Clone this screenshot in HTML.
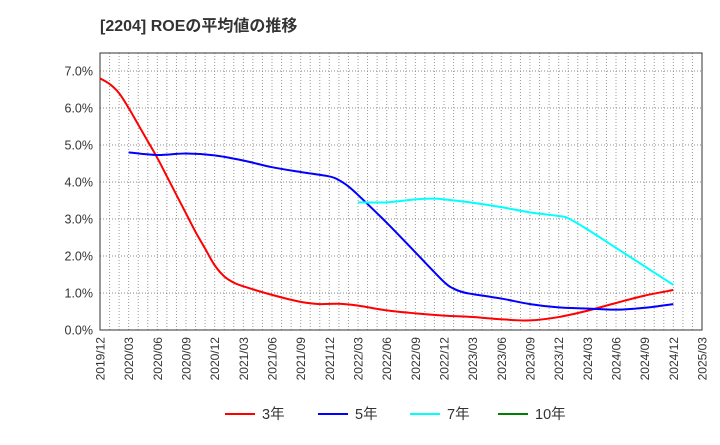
<!DOCTYPE html>
<html><head><meta charset="utf-8"><style>
body{margin:0;background:#fff;font-family:"Liberation Sans","Noto Sans CJK JP",sans-serif}
</style></head><body>
<svg width="720" height="440" viewBox="0 0 720 440" style="font-family:'Liberation Sans','Noto Sans CJK JP',sans-serif">
<text x="100" y="31" font-size="16" font-weight="bold" fill="#333">[2204]  ROEの平均値の推移</text>
<g id="grid"></g><g id="axes"></g><g id="series"></g><g id="legend"></g>
</svg>
<script>
const xTickLabels=["2019/12","2020/03","2020/06","2020/09","2020/12","2021/03","2021/06","2021/09","2021/12","2022/03","2022/06","2022/09","2022/12","2023/03","2023/06","2023/09","2023/12","2024/03","2024/06","2024/09","2024/12","2025/03"];
const yTicks=[0,1,2,3,4,5,6,7];
const seriesNames=["3年","5年","7年","10年"];
const seriesColors=["#ff0000","#0000ff","#00ffff","#008000"];
// [monthIndex from 2019/12, value %]
const roe3=[[0,6.8],[1,6.65],[2,6.4],[3,6.0],[4,5.55],[5,5.1],[6,4.65],[7,4.15],[8,3.65],[9,3.15],[10,2.65],[11,2.2],[12,1.75],[13,1.45],[14,1.28],[15,1.18],[18,0.95],[21,0.76],[23,0.7],[25,0.71],[27,0.66],[30,0.53],[33,0.45],[36,0.39],[39,0.35],[42,0.29],[45,0.26],[48,0.35],[51,0.52],[54,0.73],[57,0.93],[60,1.08]];
const roe5=[[3,4.8],[6,4.73],[9,4.77],[12,4.72],[15,4.58],[18,4.4],[21,4.27],[24,4.15],[25,4.05],[26,3.88],[27,3.65],[30,2.9],[33,2.1],[36,1.3],[37,1.12],[38,1.02],[39,0.97],[42,0.85],[45,0.7],[48,0.61],[51,0.58],[54,0.55],[57,0.6],[60,0.7]];
const roe7=[[27,3.45],[30,3.45],[33,3.53],[35,3.55],[36,3.53],[39,3.44],[42,3.32],[45,3.18],[48,3.08],[49,3.02],[51,2.72],[54,2.22],[57,1.72],[60,1.22]];
const roe10=[];
const NS="http://www.w3.org/2000/svg";
const L=100,R=702,T=53,B=330,months=63;
const xs=m=>L+m*(R-L)/months, ys=v=>B-v*37;
function el(t,a,p){const e=document.createElementNS(NS,t);for(const k in a)e.setAttribute(k,a[k]);p.appendChild(e);return e;}
const g=document.getElementById('grid'),ax=document.getElementById('axes'),sg=document.getElementById('series'),lg=document.getElementById('legend');
for(let m=1;m<months;m++){const l=el('line',{x1:xs(m),x2:xs(m),y1:T,y2:B,stroke:'#999','stroke-dasharray':'1,2','stroke-width':1},g);
}
yTicks.forEach(v=>{if(v>0){const l=el('line',{x1:L,x2:R,y1:ys(v),y2:ys(v),stroke:'#888','stroke-dasharray':'1,2'},g);
}
const t=el('text',{x:93,y:ys(v)+4.5,'text-anchor':'end','font-size':12.5,fill:'#333'},ax);t.textContent=v.toFixed(1)+'%';
});
const fr=el('rect',{x:L,y:T,width:R-L,height:B-T,fill:'none',stroke:'#333','stroke-width':1},ax);

xTickLabels.forEach((s,i)=>{const x=xs(i*3);const t=el('text',{x:0,y:0,transform:`translate(${x+4.5},337) rotate(-90)`,'text-anchor':'end','font-size':12,fill:'#333'},ax);t.textContent=s;
});
function path(pts){if(pts.length<2)return '';const P=pts.map(p=>[xs(p[0]),ys(p[1])]);let d=`M${P[0][0]},${P[0][1]}`;
for(let i=0;i<P.length-1;i++){const p0=P[i-1]||P[i],p1=P[i],p2=P[i+1],p3=P[i+2]||p2;
d+=` C${p1[0]+(p2[0]-p0[0])/6},${p1[1]+(p2[1]-p0[1])/6} ${p2[0]-(p3[0]-p1[0])/6},${p2[1]-(p3[1]-p1[1])/6} ${p2[0]},${p2[1]}`;}return d;}
[roe3,roe5,roe7,roe10].forEach((s,i)=>{if(!s.length)return;const p=el('path',{d:path(s),fill:'none',stroke:seriesColors[i],'stroke-width':2},sg);
});
const lx=[225,318,410,498];
seriesNames.forEach((n,i)=>{const ln=el('line',{x1:lx[i],x2:lx[i]+30,y1:414,y2:414,stroke:seriesColors[i],'stroke-width':2},lg);

const t=el('text',{x:lx[i]+37,y:419,'font-size':14.5,fill:'#333'},lg);t.textContent=n;
});
</script>
</body></html>
